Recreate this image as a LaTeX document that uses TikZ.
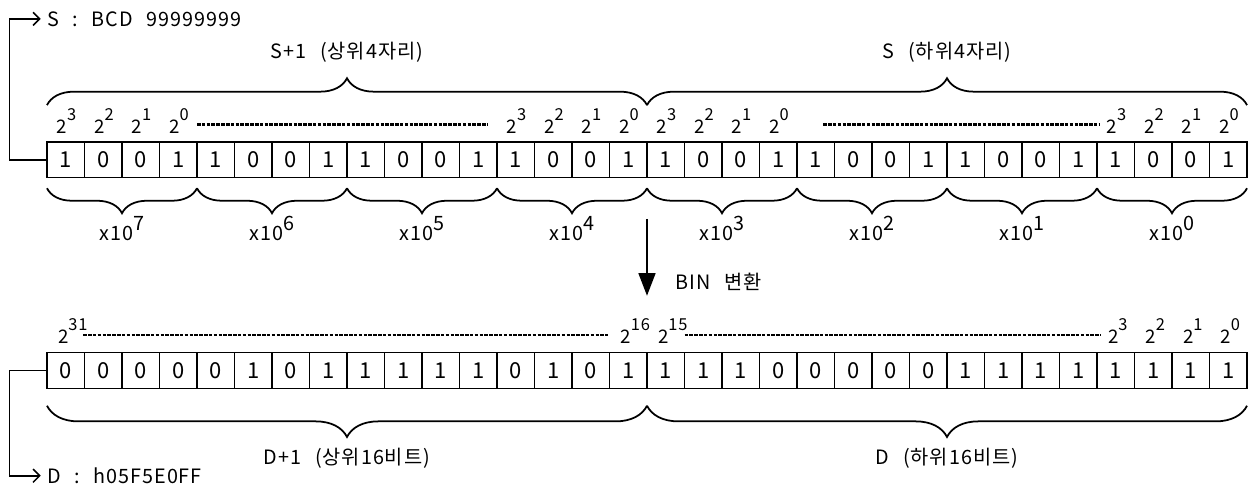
\documentclass[tikz,border=0pt]{standalone}
\usepackage{fontspec}
\setmainfont{Noto Sans CJK KR}[LetterSpace=5, WordSpace=2.5]
\usetikzlibrary{arrows.meta,calc,positioning,decorations.pathreplacing}

\newcommand{\pw}[1]{2\rlap{\raisebox{0.7em}{\fontsize{7.5}{8}\selectfont #1}}}
\newcommand{\tenpow}[1]{x10\raisebox{0.5em}{#1}}

\begin{document}
\begin{tikzpicture}[
    bitcell/.style={draw, line width=0.6pt, minimum width=0.6cm, minimum height=0.57cm, inner sep=0pt, font=\fontsize{10}{10}\selectfont},
    weight/.style={anchor=base, inner sep=0pt, font=\fontsize{8.5}{9}\selectfont},
    lbl/.style={inner sep=0pt, font=\fontsize{9}{10}\selectfont},
    dotrow/.style={line width=1pt, dash pattern=on 1.6pt off 0.6pt},
    upbrace/.style={decorate, decoration={brace, amplitude=0.43cm}, line width=0.8pt},
    decbrace/.style={decorate, decoration={brace, mirror, amplitude=0.4cm}, line width=0.8pt},
    wordbrace/.style={decorate, decoration={brace, mirror, amplitude=0.5cm}, line width=0.8pt},
    link/.style={line width=0.7pt, -{Straight Barb[length=3pt, width=6pt]}},
    binarrow/.style={line width=0.8pt, -{Triangle[length=0.36cm, width=0.27cm]}}
]

% Page
\fill[white] (-0.752,-5.472) rectangle (19.296,2.272);
\useasboundingbox (-0.752,-5.472) rectangle (19.296,2.272);

% Source register S+1 / S (BCD)
\foreach \b [count=\i] in {1,0,0,1,1,0,0,1,1,0,0,1,1,0,0,1,1,0,0,1,1,0,0,1,1,0,0,1,1,0,0,1}
    \node[bitcell] (s\i) at ({0.6*\i-0.3},-0.285) {\b};

% Destination register D+1 / D (BIN)
\foreach \b [count=\i] in {0,0,0,0,0,1,0,1,1,1,1,1,0,1,0,1,1,1,1,0,0,0,0,0,1,1,1,1,1,1,1,1}
    \node[bitcell] (d\i) at ({0.6*\i-0.3},-3.655) {\b};

% Bit weights
\foreach \c/\e in {1/3,2/2,3/1,4/0,13/3,14/2,15/1,16/0,17/3,18/2,19/1,20/0,29/3,30/2,31/1,32/0}
    \node[weight] (sw\c) at ([xshift=-0.06cm, yshift=0.13cm]s\c.north) {\pw{\e}};
\foreach \c/\e in {1/31,16/16,17/15,29/3,30/2,31/1,32/0}
    \node[weight] (dw\c) at ([xshift=-0.04cm, yshift=0.13cm]d\c.north) {\pw{\e}};

\draw[dotrow] (2.4,0.28) -- (7.04,0.28);
\draw[dotrow] (12.42,0.28) -- (16.85,0.28);
\draw[dotrow] (0.58,-3.09) -- (8.98,-3.09);
\draw[dotrow] (10.2,-3.09) -- (16.85,-3.09);

% Word braces of the source
\draw[upbrace] (0,0.59) -- (9.6,0.59);
\draw[upbrace] (9.6,0.59) -- (19.2,0.59);
\node[lbl] (hisrc) at (4.8,1.44) {S+1 (상위4자리)};
\node[lbl] (losrc) at (14.4,1.44) {S (하위4자리)};

% Decimal digits
\foreach \k [count=\n from 0] in {7,6,5,4,3,2,1,0} {
    \draw[decbrace] ({2.4*\n},-0.74) -- ({2.4*\n+2.4},-0.74);
    \node[lbl] (dec\k) at ({2.4*\n+1.2},-1.38) {\tenpow{\k}};
}

% Conversion
\coordinate (binfrom) at (9.6,-1.23);
\coordinate (binto) at (9.6,-2.46);
\draw[binarrow] (binfrom) -- (binto);
\node[lbl, anchor=west] (binlbl) at (10.05,-2.24) {BIN 변환};

% Word braces of the destination
\draw[wordbrace] (0,-4.22) -- (9.6,-4.22);
\draw[wordbrace] (9.6,-4.22) -- (19.2,-4.22);
\node[lbl] (hidst) at (4.8,-5.06) {D+1 (상위16비트)};
\node[lbl] (lodst) at (14.4,-5.06) {D (하위16비트)};

% Values
\node[lbl, anchor=west, inner sep=0.1cm] (srcval) at (-0.1,1.97) {S : BCD 99999999};
\draw[link] (s1.west) -- ++(-0.59,0) |- (srcval.west);
\node[lbl, anchor=west, inner sep=0.1cm] (dstval) at (-0.1,-5.34) {D : h05F5E0FF};
\draw[link] (d1.west) -- ++(-0.59,0) |- (dstval.west);

\end{tikzpicture}
\end{document}
